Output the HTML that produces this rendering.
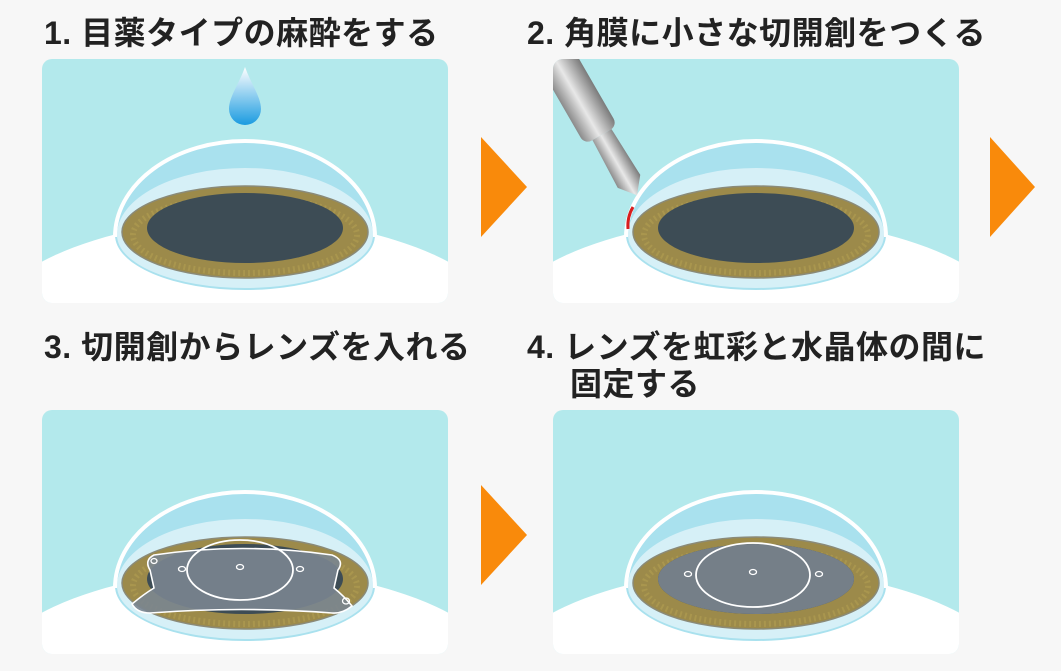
<!DOCTYPE html>
<html><head><meta charset="utf-8"><style>
html,body{margin:0;padding:0;background:#f7f7f7;}
body{width:1061px;height:671px;overflow:hidden;position:relative;font-family:"Liberation Sans","Noto Sans CJK JP",sans-serif;}
.t{position:absolute;font-weight:bold;font-size:32px;color:#222;letter-spacing:0.5px;line-height:36px;white-space:nowrap;}
svg{position:absolute;left:0;top:0;}
</style></head><body>
<div class="t" style="left:44px;top:15px">1. 目薬タイプの麻酔をする</div>
<div class="t" style="left:527px;top:15px">2. 角膜に小さな切開創をつくる</div>
<div class="t" style="left:44px;top:329px">3. 切開創からレンズを入れる</div>
<div class="t" style="left:527px;top:329px">4. レンズを虹彩と水晶体の間に</div>
<div class="t" style="left:570px;top:366px">固定する</div>
<svg width="1061" height="671" viewBox="0 0 1061 671">
<defs>
<clipPath id="pc"><rect x="0" y="0" width="406" height="244" rx="10"/></clipPath>
<linearGradient id="drop" x1="0" y1="0" x2="0" y2="1"><stop offset="0" stop-color="#ffffff"/><stop offset="1" stop-color="#1a9be0"/></linearGradient>
<linearGradient id="metal" x1="0" y1="0" x2="1" y2="0"><stop offset="0" stop-color="#8a8a8a"/><stop offset="0.45" stop-color="#e8e8e8"/><stop offset="1" stop-color="#7a7a7a"/></linearGradient>
<g id="eye">
<rect x="0" y="0" width="406" height="244" fill="#b3e9ec"/>
<ellipse cx="203" cy="285" rx="270" ry="125" fill="#ffffff"/>
<path d="M73 176 A130 96 0 0 1 333 176 A130 55 0 0 1 73 176Z" fill="#a9e1ee"/>
<path d="M75 176 A128 67 0 0 1 331 176 A128 53 0 0 1 75 176Z" fill="#d6f0f7"/>
<path d="M73 178 A130 96 0 0 1 333 178" fill="none" stroke="#ffffff" stroke-width="4"/>
<ellipse cx="203" cy="173" rx="123" ry="46" fill="#9c8a4a" stroke="#8a8a78" stroke-width="1.5"/>
<ellipse cx="203" cy="176" rx="112" ry="38" fill="none" stroke="#c4ad55" stroke-width="6" stroke-dasharray="2 3" opacity="0.35"/>
<ellipse cx="203" cy="169" rx="98" ry="35" fill="#3d4c55"/>
</g>
</defs>
<g transform="translate(42,59)" clip-path="url(#pc)">
<use href="#eye"/>
<path d="M203 8 C197 25 187 38 187 50 A16 16 0 0 0 219 50 C219 38 209 25 203 8Z" fill="url(#drop)"/>
</g>
<g transform="translate(553,59)" clip-path="url(#pc)">
<use href="#eye"/>
<g transform="rotate(-30 40 60)">
<rect x="20" y="-40" width="38" height="118" rx="8" fill="url(#metal)"/>
<path d="M29 78 L51 78 L53 132 L40 148 L27 132Z" fill="url(#metal)"/>
</g>
<path d="M80 148 Q74 158 75 170" stroke="#d81e1e" stroke-width="3" fill="none"/>
</g>
<g transform="translate(42,410)" clip-path="url(#pc)">
<use href="#eye"/>
<path d="M112 145 Q200 132 290 145 Q303 150 296 160 L292 178 Q302 186 310 196 Q300 204 290 203 Q200 196 108 203 Q95 203 90 194 Q102 184 112 178 L108 160 Q102 150 112 145Z" fill="#7a8590" fill-opacity="0.9" stroke="#ffffff" stroke-width="1.6"/>
<ellipse cx="198" cy="160" rx="53" ry="30" fill="none" stroke="#fff" stroke-width="1.8"/>
<ellipse cx="198" cy="157" rx="3.5" ry="2.5" fill="none" stroke="#fff" stroke-width="1.3"/>
<ellipse cx="140" cy="159" rx="3.5" ry="2.5" fill="none" stroke="#fff" stroke-width="1.3"/>
<ellipse cx="258" cy="159" rx="3.5" ry="2.5" fill="none" stroke="#fff" stroke-width="1.3"/>
<ellipse cx="112" cy="151" rx="3" ry="2.5" fill="none" stroke="#fff" stroke-width="1.3"/>
<ellipse cx="304" cy="191" rx="3.5" ry="3" fill="none" stroke="#fff" stroke-width="1.3"/>
</g>
<g transform="translate(553,410)" clip-path="url(#pc)">
<use href="#eye"/>
<ellipse cx="203" cy="169" rx="98" ry="35" fill="#757f88"/>
<ellipse cx="200" cy="165" rx="57" ry="32" fill="none" stroke="#fff" stroke-width="1.8"/>
<ellipse cx="200" cy="162" rx="3.5" ry="2.5" fill="none" stroke="#fff" stroke-width="1.3"/>
<ellipse cx="135" cy="164" rx="3.5" ry="2.5" fill="none" stroke="#fff" stroke-width="1.3"/>
<ellipse cx="266" cy="164" rx="3.5" ry="2.5" fill="none" stroke="#fff" stroke-width="1.3"/>
</g>
<polygon points="481,137 527,187 481,237" fill="#f98a0b"/>
<polygon points="990,137 1035,187 990,237" fill="#f98a0b"/>
<polygon points="481,485 527,535 481,585" fill="#f98a0b"/>
</svg>
</body></html>
